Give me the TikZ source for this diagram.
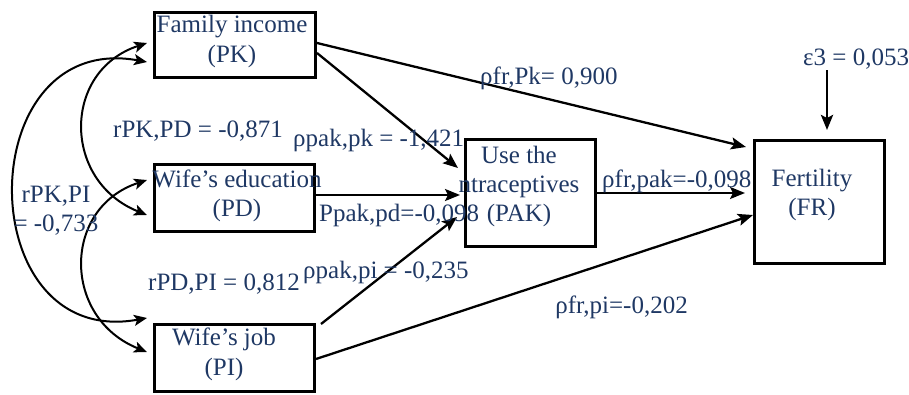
\documentclass[tikz,border=0pt]{standalone}
\usepackage{fontspec}
\setmainfont{Liberation Serif}
\usetikzlibrary{arrows.meta,calc}
\definecolor{navy}{RGB}{31,56,100}
\begin{document}
\begin{tikzpicture}[x=1pt,y=-1pt,
  box/.style={draw=black,line width=2.6pt,inner sep=0pt},
  lbl/.style={text=navy,inner sep=0pt,font=\fontsize{25}{29}\selectfont},
  arr/.style={line width=2.3pt,-{Stealth[length=15pt,width=12pt,inset=3pt]}},
  corr/.style={line width=2pt,{Stealth[length=13pt,width=11pt,inset=3pt]}-{Stealth[length=13pt,width=11pt,inset=3pt]}},
]
\useasboundingbox (0,0) rectangle (909,395);

% boxes
\node[box,minimum width=161.4pt,minimum height=65.4pt] (pk) at (235,45) {};
\node[box,minimum width=160.4pt,minimum height=67.4pt] (pd) at (234.5,198) {};
\node[box,minimum width=160.4pt,minimum height=67.4pt] (pi) at (234.5,358) {};
\node[box,minimum width=130.4pt,minimum height=107.4pt] (pak) at (530.5,193) {};
\node[box,minimum width=130.4pt,minimum height=123.4pt] (fr) at (819.5,202) {};

% box texts (base = baseline of the last line)
\node[lbl,anchor=base,align=center,font=\fontsize{25}{30}\selectfont] (pkt) at (232,63) {Family income\\(PK)};
\node[lbl,anchor=base,align=center] (pdt) at (237,217) {Wife’s education\\(PD)};
\node[lbl,anchor=base,align=center,font=\fontsize{25}{30}\selectfont] (pit) at (224,375) {Wife’s job\\(PI)};
\node[lbl,anchor=base,align=center] (pakt) at (519,222) {Use the\\ntraceptives\\(PAK)};
\node[lbl,anchor=base,align=center] (frt) at (812,216) {Fertility\\(FR)};

% correlation curves
\draw[corr] ($(pk.west)+(-6,-2)$) .. controls (62,71) and (62,181) .. ($(pd.west)+(-6,17)$);
\draw[corr] ($(pd.west)+(-6,-18)$) .. controls (62,208) and (62,318) .. ($(pi.west)+(-6,-6)$);
\draw[corr] ($(pk.west)+(-6,17)$) .. controls (-30,30) and (-30,350) .. ($(pi.west)+(-6,-40)$);

% path arrows
\draw[arr] ($(pk.east)+(0,8)$) -- ($(pak.west)+(-6,-25)$);
\draw[arr] ($(pk.east)+(0,-2)$) -- ($(fr.west)+(-7,-55)$);
\draw[arr] ($(pd.east)+(0,-3)$) -- ($(pak.west)+(-4,2)$);
\draw[arr] ($(pi.north east)+(5,1)$) -- ($(pak.west)+(-7,24)$);
\draw[arr] ($(pi.east)+(0,1)$) -- ($(fr.west)+(0,13)$);
\draw[arr] (pak.east) -- ($(fr.west)+(-8,-9)$);

% labels
\node[lbl,anchor=base west] (e3) at (803,66) {ε3 = 0,053};
\draw[arr,line width=2.8pt] ($(e3.south west)+(24,0)$) -- ($(fr.north)+(7.5,-9)$);

\node[lbl,anchor=base west] (l1) at (113,138) {rPK,PD = -0,871};
\node[lbl,anchor=base west] (l2) at (293,147) {ρpak,pk = -1,421};
\node[lbl,anchor=base,align=center] (l3) at (56,232) {rPK,PI\\= -0,733};
\node[lbl,anchor=base west] (l4) at (148,290) {rPD,PI = 0,812};
\node[lbl,anchor=base west] (l5) at (303,278) {ρpak,pi = -0,235};
\node[lbl,anchor=base west] (l6) at (319,222) {Ppak,pd=-0,098};
\node[lbl,anchor=base west] (l7) at (480,85) {ρfr,Pk= 0,900};
\node[lbl,anchor=base west] (l8) at (602,188) {ρfr,pak=-0,098};
\node[lbl,anchor=base east] (l9) at (688,313) {ρfr,pi=-0,202};
\end{tikzpicture}
\end{document}
